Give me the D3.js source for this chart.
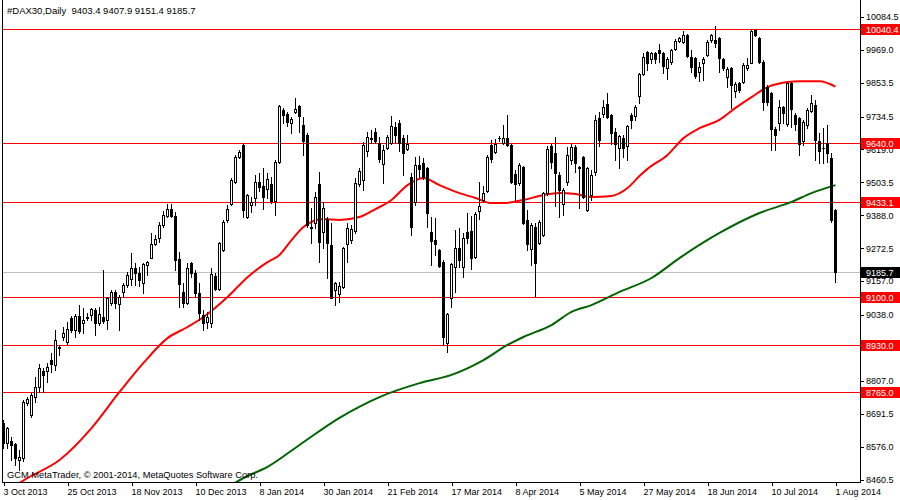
<!DOCTYPE html>
<html><head><meta charset="utf-8">
<script src="https://cdn.jsdelivr.net/npm/d3@7"></script>
<style>
html,body{margin:0;padding:0;background:#fff;}
svg{display:block;}
</style></head>
<body>
<svg id="c" width="900" height="500"></svg>
<script>
// ---- data ----
const symbolTitle = "#DAX30,Daily";
const lastOHLC = [9403.4, 9407.9, 9151.4, 9185.7];
const copyright = "GCM MetaTrader, \u00a9 2001-2014, MetaQuotes Software Corp.";

const opens = [8657,8587,8594,8583,8527,8534,8727,8685,8748,8783,
8840,8840,8878,8861,8924,8959,8941,9026,8984,9033,
9008,9026,9036,9054,9008,9029,9019,9078,9117,9075,
9117,9141,9163,9201,9184,9149,9212,9236,9285,9306,
9352,9384,9408,9384,9233,9117,9078,9219,9184,9113,
9036,9012,9008,9173,9127,9264,9370,9426,9503,9591,
9633,9380,9422,9447,9503,9489,9478,9496,9436,9573,
9756,9742,9710,9749,9770,9703,9668,9345,9359,9496,
9328,9373,9282,9124,9110,9134,9285,9299,9331,9496,
9510,9612,9654,9679,9640,9566,9622,9640,9696,9710,
9657,9619,9521,9433,9563,9570,9552,9328,9299,9264,
9222,8938,9096,9205,9271,9205,9328,9331,9240,9401,
9440,9471,9633,9608,9657,9640,9657,9633,9531,9500,
9556,9370,9268,9345,9289,9317,9464,9629,9605,9528,
9426,9503,9580,9626,9556,9591,9405,9457,9538,9728,
9741,9777,9738,9678,9622,9657,9629,9738,9735,9805,
9882,9959,9935,9956,9966,9956,9903,9924,9970,9998,
9994,10019,9942,9938,9889,9921,9949,10001,10001,10008,
9935,9872,9903,9822,9851,9854,9903,9921,10036,10008,
9924,9836,9815,9689,9710,9766,9707,9851,9738,9728,
9647,9703,9752,9773,9647,9622,9640,9587,9403.4];
const highs = [8668,8643,8608,8587,8562,8738,8748,8762,8819,8864,
8850,8868,8903,8984,8931,8994,9012,9033,9040,9071,
9061,9043,9061,9061,9064,9194,9099,9124,9124,9106,
9149,9187,9254,9219,9205,9219,9226,9324,9317,9363,
9401,9426,9426,9398,9257,9149,9219,9222,9194,9149,
9054,9047,9201,9184,9292,9370,9422,9517,9598,9615,
9640,9461,9450,9528,9535,9552,9535,9521,9580,9773,
9763,9749,9731,9798,9773,9731,9675,9412,9468,9538,
9433,9380,9359,9152,9152,9275,9359,9352,9517,9552,
9643,9678,9686,9693,9661,9633,9668,9735,9714,9721,
9668,9668,9535,9591,9594,9587,9556,9380,9377,9268,
9229,9043,9219,9335,9342,9324,9394,9384,9398,9503,
9489,9598,9650,9654,9664,9703,9738,9636,9545,9570,
9560,9405,9359,9359,9370,9468,9629,9636,9661,9538,
9482,9626,9636,9633,9560,9595,9556,9545,9738,9749,
9791,9815,9742,9693,9668,9668,9703,9745,9773,9886,
9956,9963,9959,9959,9987,9959,9942,9970,10005,10012,
10033,10022,9966,9942,9924,9942,10001,10022,10050,10012,
9938,9907,9907,9854,9854,9921,9938,10040,10040,10012,
9931,9843,9818,9696,9791,9770,9854,9854,9745,9731,
9721,9763,9808,9791,9675,9692,9703,9605,9407.9];
const lows = [8569,8569,8527,8510,8492,8524,8720,8678,8731,8766,
8766,8801,8836,8843,8896,8948,8934,8977,8959,8973,
8973,9019,9019,8966,9001,9008,8987,9071,9061,8984,
9099,9134,9141,9141,9138,9113,9177,9236,9282,9292,
9345,9380,9380,9194,9064,9064,9075,9170,9099,9019,
8984,8991,8994,9124,9124,9261,9363,9422,9500,9587,
9380,9377,9398,9422,9471,9408,9447,9429,9387,9570,
9710,9700,9675,9745,9679,9598,9345,9289,9342,9222,
9271,9166,9096,9071,9082,9131,9222,9289,9324,9489,
9475,9594,9640,9640,9573,9500,9619,9636,9643,9612,
9528,9615,9317,9422,9521,9514,9345,9212,9247,9205,
8931,8906,9064,9117,9205,9170,9289,9198,9236,9373,
9433,9468,9573,9605,9647,9636,9629,9500,9440,9492,
9355,9264,9212,9099,9285,9313,9457,9552,9419,9380,
9387,9492,9566,9538,9412,9447,9401,9440,9528,9629,
9731,9728,9636,9580,9552,9591,9580,9693,9721,9780,
9879,9896,9921,9921,9924,9886,9865,9917,9966,9994,
9991,9942,9889,9868,9858,9861,9945,9994,9977,9889,
9896,9836,9763,9801,9819,9851,9896,9921,10015,9921,
9756,9773,9615,9615,9685,9710,9700,9696,9685,9598,
9633,9692,9749,9580,9570,9570,9573,9363,9151.4];
const closes = [8587,8640,8580,8534,8538,8731,8741,8755,8783,8850,
8826,8854,8864,8948,8920,8973,8987,8984,9033,8980,
9019,9029,9057,9008,9040,9015,9096,9117,9078,9099,
9141,9177,9201,9184,9159,9215,9222,9285,9303,9352,
9387,9408,9384,9229,9145,9078,9201,9184,9113,9043,
9008,9029,9180,9127,9289,9363,9408,9510,9591,9608,
9405,9457,9433,9503,9485,9450,9513,9436,9573,9770,
9738,9714,9724,9759,9735,9647,9352,9342,9450,9292,
9412,9289,9096,9149,9138,9271,9342,9338,9500,9542,
9633,9661,9657,9647,9584,9615,9661,9700,9668,9640,
9605,9636,9345,9563,9549,9521,9394,9296,9285,9208,
8959,9040,9215,9271,9229,9306,9306,9236,9391,9419,
9464,9591,9584,9636,9659,9657,9633,9503,9496,9563,
9359,9285,9352,9219,9363,9464,9619,9573,9535,9475,
9475,9598,9626,9570,9552,9450,9552,9528,9721,9650,
9766,9731,9675,9636,9664,9622,9700,9721,9766,9882,
9942,9921,9956,9935,9956,9910,9935,9966,9998,10008,
10019,9945,9907,9875,9907,9935,9994,10019,9991,9938,
9903,9900,9843,9847,9826,9914,9914,10033,10019,9924,
9784,9784,9689,9668,9766,9745,9851,9759,9707,9636,
9714,9756,9780,9650,9612,9624,9605,9370,9185.7];

// moving averages (bar index, value)
const maRedIdx = [0,6,14,22,29,35,41,46,50,56,61,66,69,72,75,80,84,89,93,97,101,105,109,114,118,122,125,130,135,139,143,147,152,156,159,161,166,170,174,179,183,187,191,196,199,204,208];
const maRedVal = [8411,8464,8527,8639,8766,8868,8955,8994,9029,9099,9169,9222,9247,9299,9345,9373,9370,9380,9408,9440,9492,9517,9492,9464,9447,9429,9429,9440,9457,9464,9461,9450,9454,9482,9524,9549,9598,9657,9692,9721,9763,9801,9836,9854,9857,9857,9838];
const maGreenIdx = [55,60,66,74,84,94,104,112,120,126,130,137,142,147,154,162,169,179,189,197,202,208];
const maGreenVal = [8422,8464,8503,8580,8675,8748,8797,8826,8878,8931,8959,9001,9047,9071,9117,9166,9236,9324,9394,9433,9464,9492];

// horizontal levels
const levels = [10040.4, 9640.0, 9433.1, 9100.0, 8930.0, 8765.0];
const bidPrice = 9185.7;

// axis ticks
const yTicks = [10084.5, 9969.0, 9853.5, 9734.5, 9619.0, 9503.5, 9388.0, 9272.5, 9157.0, 9038.0, 8807.0, 8691.5, 8576.0, 8460.5];
const xTickIdx = [0,16,32,48,64,80,96,112,128,144,160,176,192,208];
const xTickLabels = ["3 Oct 2013","25 Oct 2013","18 Nov 2013","10 Dec 2013","8 Jan 2014","30 Jan 2014","21 Feb 2014","17 Mar 2014","8 Apr 2014","5 May 2014","27 May 2014","18 Jun 2014","10 Jul 2014","1 Aug 2014"];

// ---- drawing ----
const FONT = "Liberation Sans, Arial, sans-serif";
const FS = 9;
const svg = d3.select("#c");
const plotL = 2, plotR = 860, plotB = 482;

const x = d3.scaleLinear().domain([0, 208]).range([3, 835]);
const y = d3.scaleLinear().domain([8460.5, 10141.8]).range([479, 0]);
const py = v => Math.round(y(v));

svg.append("defs").append("clipPath").attr("id","clip")
  .append("rect").attr("x", plotL).attr("y", 0).attr("width", plotR - plotL).attr("height", plotB);

const plot = svg.append("g").attr("clip-path","url(#clip)");

// level lines
plot.selectAll("line.lvl").data(levels).enter().append("line")
  .attr("x1", plotL).attr("x2", plotR)
  .attr("y1", d => py(d) + 0.5).attr("y2", d => py(d) + 0.5)
  .attr("stroke", "#ff0000").attr("stroke-width", 1).attr("shape-rendering","crispEdges");

// bid line
plot.append("line").attr("x1", plotL).attr("x2", plotR)
  .attr("y1", py(bidPrice) + 0.5).attr("y2", py(bidPrice) + 0.5)
  .attr("stroke", "#c0c0c0").attr("stroke-width", 1).attr("shape-rendering","crispEdges");

// moving averages
const maLine = d3.line().curve(d3.curveMonotoneX).x(d => x(d[0]) + 0.5).y(d => y(d[1]));
plot.append("path").datum(maGreenIdx.map((d,i)=>[d, maGreenVal[i]]))
  .attr("d", maLine).attr("fill","none").attr("stroke","#006400").attr("stroke-width",2);
plot.append("path").datum(maRedIdx.map((d,i)=>[d, maRedVal[i]]))
  .attr("d", maLine).attr("fill","none").attr("stroke","#ff0000").attr("stroke-width",2);

// candles
const bars = opens.map((o,i) => ({i, o, h: highs[i], l: lows[i], c: closes[i]}));
const cg = plot.append("g").attr("shape-rendering","crispEdges");
const cs = cg.selectAll("g").data(bars).enter().append("g");
cs.append("line")
  .attr("x1", d => x(d.i) + 0.5).attr("x2", d => x(d.i) + 0.5)
  .attr("y1", d => py(d.h)).attr("y2", d => py(d.l) + 1)
  .attr("stroke","#000").attr("stroke-width",1);
cs.each(function(d){
  const g = d3.select(this);
  const top = py(Math.max(d.o, d.c)), bot = py(Math.min(d.o, d.c));
  const cx = x(d.i);
  if (bot - top < 1) {
    g.append("line").attr("x1", cx - 1).attr("x2", cx + 2)
      .attr("y1", top + 0.5).attr("y2", top + 0.5).attr("stroke","#000").attr("stroke-width",1);
  } else {
    g.append("rect").attr("x", cx - 0.5).attr("y", top + 0.5)
      .attr("width", 2).attr("height", bot - top)
      .attr("fill", d.c >= d.o ? "#fff" : "#000")
      .attr("stroke","#000").attr("stroke-width",1);
  }
});

// frame
svg.append("line").attr("x1", plotL + 0.5).attr("x2", plotL + 0.5).attr("y1", 0).attr("y2", plotB + 1)
  .attr("stroke","#000").attr("shape-rendering","crispEdges");
svg.append("line").attr("x1", plotR + 0.5).attr("x2", plotR + 0.5).attr("y1", 0).attr("y2", plotB + 1)
  .attr("stroke","#000").attr("shape-rendering","crispEdges");
svg.append("line").attr("x1", plotL).attr("x2", plotR + 1).attr("y1", plotB + 0.5).attr("y2", plotB + 0.5)
  .attr("stroke","#000").attr("shape-rendering","crispEdges");

// right axis
const ay = svg.append("g").attr("transform", `translate(${plotR + 1},0.5)`)
  .call(d3.axisRight(y).tickValues(yTicks).tickSize(3).tickSizeOuter(0).tickPadding(2)
    .tickFormat(d3.format(".1f")));
ay.select(".domain").remove();
ay.attr("font-family", FONT).attr("font-size", FS);
ay.selectAll(".tick line").attr("stroke","#000").attr("shape-rendering","crispEdges");
ay.selectAll(".tick text").attr("fill","#000");

// bottom axis
const ax = svg.append("g").attr("transform", `translate(0.5,${plotB + 0.5})`)
  .call(d3.axisBottom(x).tickValues(xTickIdx).tickSize(3).tickSizeOuter(0).tickPadding(3)
    .tickFormat((d,i) => xTickLabels[i]));
ax.select(".domain").remove();
ax.attr("font-family", FONT).attr("font-size", FS);
ax.selectAll(".tick line").attr("stroke","#000").attr("shape-rendering","crispEdges");
ax.selectAll(".tick text").attr("fill","#000").attr("text-anchor","start").attr("x", -0.5);

// level labels on the price scale
const lg = svg.append("g").attr("font-family", FONT).attr("font-size", FS);
const lab = lg.selectAll("g").data(levels.map(v => ({v, bg:"#ff0000"})).concat([{v: bidPrice, bg:"#000"}]))
  .enter().append("g");
lab.append("rect").attr("x", plotR + 1).attr("y", d => py(d.v) - 5).attr("width", 39).attr("height", 11)
  .attr("fill", d => d.bg);
lab.append("text").attr("x", plotR + 6).attr("y", d => py(d.v) + 4).attr("fill","#fff")
  .text(d => d.v.toFixed(1));

// title and copyright
svg.append("text").attr("x", 7).attr("y", 14).attr("font-family", FONT).attr("font-size", 9.5)
  .attr("xml:space","preserve")
  .text(symbolTitle + "  " + lastOHLC.map(v => v.toFixed(1)).join(" "));
svg.append("text").attr("x", 7).attr("y", 478).attr("font-family", FONT).attr("font-size", 9.3)
  .text(copyright);
</script>
</body></html>
